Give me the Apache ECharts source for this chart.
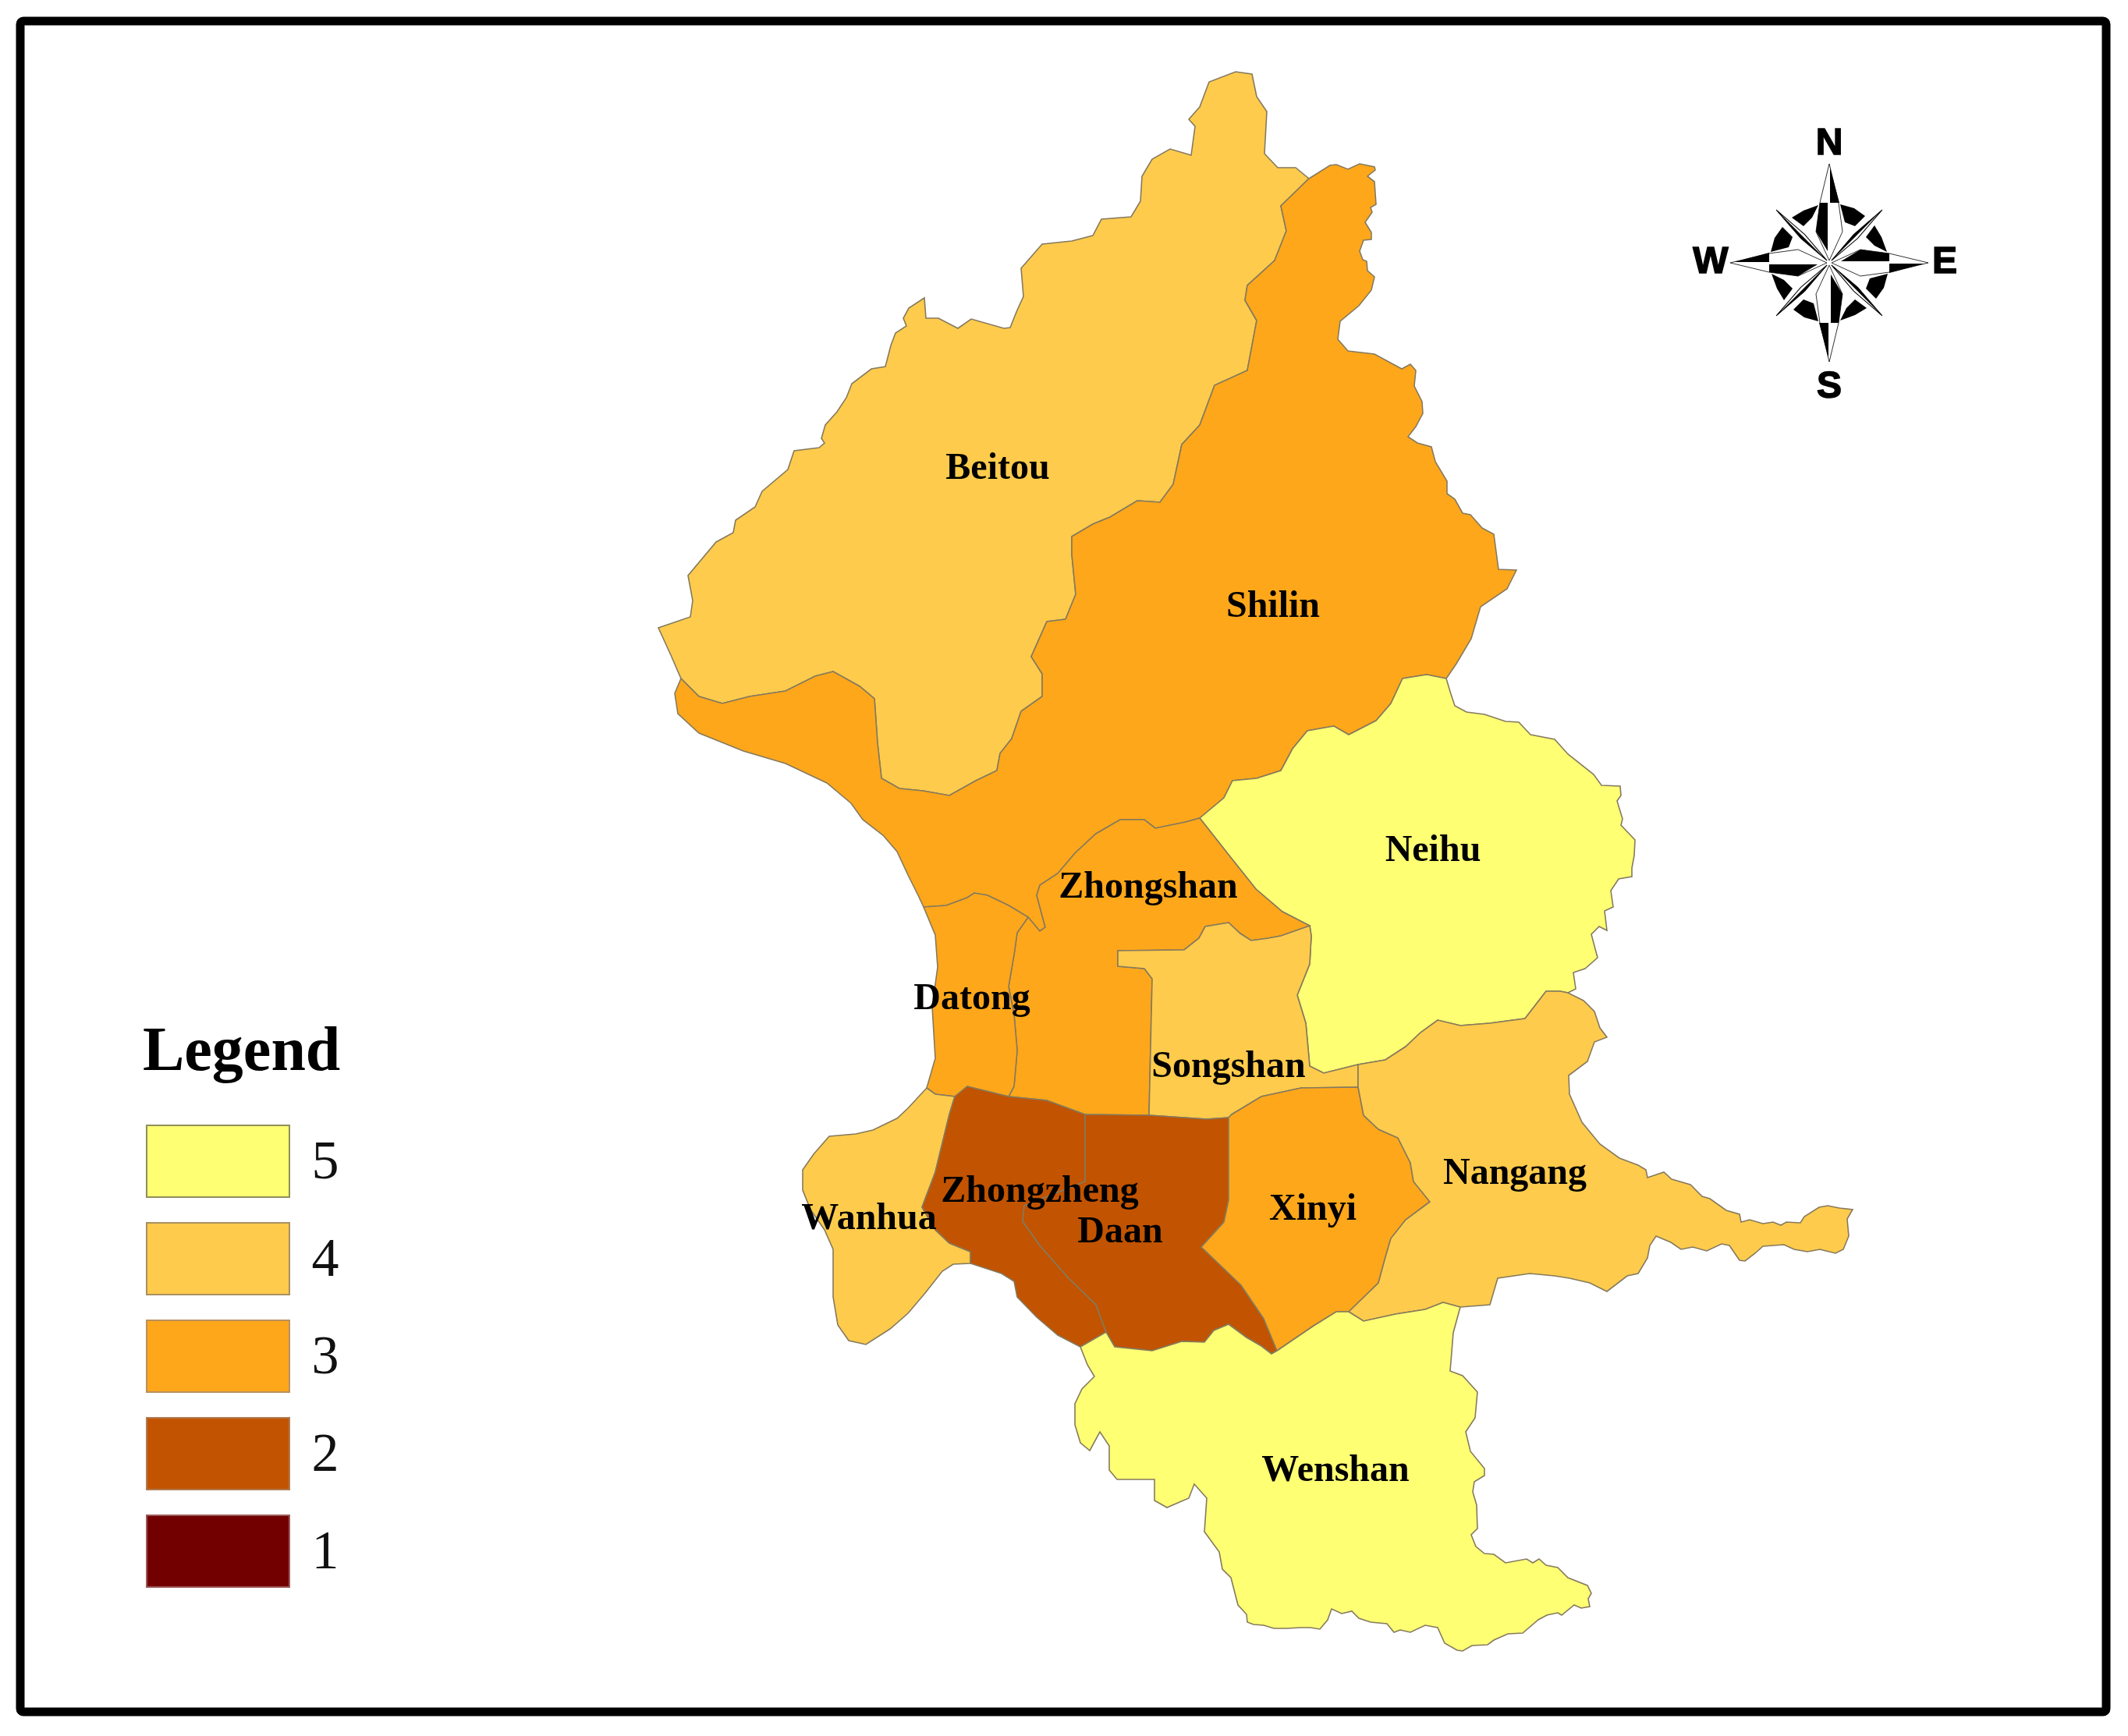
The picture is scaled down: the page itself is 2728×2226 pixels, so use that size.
<!DOCTYPE html>
<html>
<head>
<meta charset="utf-8">
<title>Taipei districts</title>
<script src="https://cdn.jsdelivr.net/npm/echarts@6/dist/echarts.min.js"></script>
<style>
  html, body { margin: 0; padding: 0; background: #fff; }
  #main { width: 2728px; height: 2226px; }
</style>
</head>
<body>
<div id="main"></div>
<script>
// district names, class (1-5) and label anchor
var districtNames = ['Beitou', 'Shilin', 'Neihu', 'Zhongshan', 'Datong', 'Songshan', 'Wanhua', 'Zhongzheng', 'Daan', 'Xinyi', 'Nangang', 'Wenshan'];
var districtLevels = [4, 3, 5, 3, 3, 4, 4, 2, 2, 3, 4, 5];
var labelAnchors = [[1279, 602], [1632, 779], [1837, 1092], [1472, 1139], [1246, 1282], [1575, 1369], [1114, 1564], [1333, 1529], [1436, 1581], [1683, 1552], [1942, 1506], [1712, 1887]];

var legendLevels = [5, 4, 3, 2, 1];
var levelColors = ['#730000', '#C25300', '#FFA71A', '#FFCB4C', '#FFFF73'];
var swatchBorders = ['#9c5a5a', '#b07a50', '#b89060', '#a89060', '#8f8f5a'];

var beitouCoast = [[844,805],[885,791],[888,770],[882,738],[918,695],[940,683],[943,667],[968,650],[977,630],[1010,602],[1018,578],[1050,574],[1057,568],[1053,562],[1058,545],[1073,528],[1085,510],[1092,492],[1117,473],[1135,470],[1142,443],[1148,427],[1162,418],[1158,408],[1165,395],[1185,382],[1187,408],[1203,408],[1228,421],[1245,409],[1287,421],[1295,420],[1303,400],[1312,380],[1309,344],[1336,313],[1374,309],[1401,302],[1412,281],[1450,278],[1462,258],[1464,226],[1477,204],[1500,191],[1527,199],[1532,162],[1524,153],[1538,137],[1550,105],[1584,92],[1605,95],[1611,124],[1624,143],[1621,197],[1638,215],[1661,215],[1678,229]];
var beitouShilin = [[1678,229],[1642,264],[1649,296],[1634,334],[1599,366],[1596,385],[1611,411],[1599,475],[1557,494],[1538,545],[1515,570],[1504,621],[1487,644],[1458,642],[1423,663],[1401,672],[1374,688],[1374,711],[1379,762],[1366,794],[1342,797],[1322,842],[1336,864],[1336,893],[1309,912],[1297,947],[1282,966],[1278,988],[1251,1001],[1217,1020],[1183,1014],[1153,1011],[1130,998],[1125,953],[1121,896],[1102,880],[1068,861],[1045,867],[1007,886],[961,893],[926,902],[896,893],[873,870]];
var beitouTail = [[873,870],[860,840],[844,805]];
var shilinEast = [[1678,229],[1705,212],[1713,211],[1728,217],[1743,210],[1762,214],[1763,218],[1753,226],[1762,233],[1764,262],[1757,266],[1759,272],[1750,285],[1758,298],[1758,307],[1748,308],[1743,322],[1747,333],[1752,335],[1753,347],[1762,355],[1758,372],[1742,392],[1718,412],[1715,435],[1728,450],[1762,454],[1797,473],[1808,467],[1815,475],[1813,495],[1823,515],[1824,530],[1815,547],[1805,560],[1817,568],[1835,573],[1840,592],[1855,617],[1855,633],[1865,640],[1875,658],[1885,660],[1900,677],[1915,685],[1921,730],[1944,731],[1932,755],[1898,778],[1886,819],[1867,851],[1854,870]];
var neihuShilin = [[1854,870],[1829,865],[1798,870],[1783,902],[1764,924],[1729,942],[1710,931],[1676,937],[1657,960],[1642,988],[1611,998],[1580,1001],[1569,1023],[1538,1049]];
var shilinCoast = [[873,870],[865,889],[869,915],[896,940],[953,963],[1007,979],[1060,1004],[1091,1030],[1106,1051],[1132,1071],[1150,1092],[1164,1122],[1177,1148],[1184,1163]];
var datongTop = [[1184,1163],[1213,1161],[1240,1151],[1249,1145],[1266,1148],[1293,1161],[1318,1176]];
var zhongshanWest = [[1318,1176],[1333,1194],[1340,1189],[1333,1163],[1329,1148],[1333,1135],[1356,1120],[1378,1094],[1405,1069],[1436,1051],[1467,1051],[1481,1062],[1520,1054],[1538,1049]];
var neihuZhongshan = [[1538,1049],[1575,1096],[1610,1140],[1644,1169],[1679,1187]];
var neihuEast = [[1854,870],[1860,890],[1865,905],[1880,913],[1903,916],[1930,925],[1947,926],[1962,942],[1993,948],[2010,967],[2043,993],[2053,1007],[2077,1008],[2078,1020],[2073,1027],[2080,1050],[2078,1058],[2096,1077],[2095,1097],[2092,1113],[2092,1124],[2075,1127],[2065,1142],[2068,1163],[2057,1168],[2060,1193],[2050,1188],[2040,1198],[2048,1228],[2032,1242],[2017,1247],[2020,1268],[2010,1273]];
var neihuNangang = [[1741,1365],[1776,1359],[1802,1342],[1821,1324],[1843,1308],[1872,1315],[1910,1312],[1955,1306],[1982,1271],[2000,1271],[2010,1273]];
var neihuSongshan = [[1679,1187],[1681,1200],[1679,1236],[1663,1276],[1674,1312],[1679,1367],[1697,1376],[1741,1365]];
var songshanTop = [[1433,1219],[1518,1218],[1537,1203],[1545,1188],[1575,1183],[1590,1197],[1604,1206],[1626,1203],[1642,1200],[1679,1187]];
var songshanWest = [[1473,1430],[1477,1255],[1467,1242],[1433,1239],[1433,1219]];
var songshanSouth = [[1575,1433],[1579,1429],[1617,1406],[1668,1395],[1741,1394]];
var zhongshanSouth = [[1473,1430],[1391,1429],[1342,1411],[1293,1406]];
var datongZhongshan = [[1318,1176],[1304,1196],[1300,1224],[1293,1265],[1300,1301],[1304,1347],[1300,1393],[1293,1406]];
var datongCoast = [[1184,1163],[1199,1199],[1202,1240],[1195,1291],[1199,1357],[1188,1395]];
var datongSouth = [[1188,1395],[1199,1403],[1224,1406]];
var zhongzhengTop = [[1224,1406],[1240,1393],[1293,1406],[1342,1411],[1391,1429]];
var wanhuaCoast = [[1188,1395],[1164,1421],[1150,1434],[1119,1449],[1097,1454],[1063,1457],[1043,1480],[1029,1500],[1029,1526],[1039,1551],[1057,1577],[1068,1602],[1068,1663],[1074,1699],[1088,1719],[1110,1724],[1141,1704],[1164,1684],[1186,1658],[1208,1630],[1222,1621],[1244,1620]];
var wanhuaZhongzheng = [[1244,1620],[1244,1605],[1217,1594],[1199,1577],[1182,1548],[1199,1503],[1217,1429],[1224,1406]];
var zhongzhengSouth = [[1244,1620],[1284,1633],[1300,1643],[1304,1663],[1329,1689],[1356,1712],[1385,1727]];
var zhongzhengDaan = [[1391,1429],[1391,1515],[1313,1546],[1311,1566],[1333,1597],[1369,1638],[1405,1673],[1418,1708]];
var daanTop = [[1391,1429],[1473,1430],[1547,1435],[1575,1433]];
var daanSouth = [[1418,1708],[1429,1727],[1477,1732],[1515,1720],[1544,1721],[1556,1706],[1575,1698],[1598,1715],[1617,1726],[1630,1736],[1637,1732]];
var daanXinyi = [[1637,1732],[1620,1691],[1591,1648],[1540,1599],[1569,1567],[1575,1539],[1575,1433]];
var xinyiNangang = [[1741,1394],[1748,1430],[1767,1448],[1792,1459],[1808,1491],[1812,1515],[1833,1541],[1802,1564],[1783,1588],[1776,1612],[1767,1645],[1729,1682]];
var xinyiWenshan = [[1729,1682],[1713,1682],[1684,1700],[1637,1732]];
var nangangOuter = [[2010,1273],[2030,1283],[2044,1297],[2051,1318],[2060,1330],[2044,1336],[2035,1361],[2011,1379],[2012,1403],[2028,1439],[2051,1467],[2076,1485],[2100,1494],[2110,1500],[2112,1510],[2133,1503],[2143,1512],[2167,1519],[2182,1534],[2192,1537],[2213,1552],[2230,1557],[2232,1567],[2243,1564],[2260,1569],[2273,1567],[2283,1571],[2290,1567],[2308,1568],[2313,1560],[2332,1548],[2343,1546],[2358,1549],[2375,1551],[2368,1563],[2370,1585],[2363,1602],[2353,1607],[2333,1602],[2317,1605],[2300,1602],[2287,1596],[2260,1598],[2250,1607],[2237,1617],[2230,1616],[2217,1597],[2207,1595],[2188,1604],[2170,1599],[2155,1602],[2142,1593],[2123,1585],[2115,1597],[2112,1613],[2100,1633],[2086,1636],[2060,1656],[2038,1645],[2012,1639],[1993,1636],[1961,1633],[1920,1639],[1910,1673],[1872,1676]];
var nangangWenshan = [[1872,1676],[1850,1670],[1827,1679],[1789,1685],[1748,1694],[1729,1682]];
var wenshanOuter = [[1872,1676],[1863,1709],[1859,1758],[1875,1764],[1894,1785],[1891,1818],[1879,1836],[1885,1861],[1903,1883],[1903,1892],[1890,1900],[1888,1913],[1893,1930],[1894,1960],[1886,1968],[1892,1983],[1903,1992],[1915,1993],[1930,2004],[1957,1999],[1965,2004],[1973,1999],[1982,2007],[1997,2010],[2010,2023],[2035,2033],[2040,2043],[2036,2050],[2038,2060],[2027,2062],[2018,2058],[2002,2071],[1997,2068],[1983,2071],[1972,2077],[1952,2094],[1933,2095],[1915,2103],[1907,2109],[1887,2110],[1875,2117],[1868,2116],[1852,2107],[1843,2087],[1827,2084],[1808,2093],[1795,2090],[1787,2093],[1778,2082],[1757,2080],[1742,2075],[1733,2066],[1720,2069],[1707,2063],[1702,2077],[1692,2089],[1680,2087],[1667,2087],[1650,2088],[1633,2088],[1620,2084],[1607,2083],[1599,2080],[1598,2070],[1587,2058],[1578,2023],[1567,2012],[1563,1990],[1544,1964],[1547,1921],[1531,1903],[1524,1921],[1496,1933],[1480,1924],[1480,1897],[1432,1897],[1422,1885],[1422,1854],[1410,1836],[1397,1860],[1385,1850],[1378,1827],[1378,1800],[1387,1781],[1403,1765],[1394,1750],[1385,1727]];

function rev(seg) { return seg.slice().reverse(); }
function loop() {
  var pts = [];
  for (var i = 0; i < arguments.length; i++) pts = pts.concat(arguments[i]);
  pts.push(pts[0]);
  // geo y grows upward, the tracing grows downward
  return pts.map(function (p) { return [p[0], -p[1]]; });
}

var districtShapes = [
  loop(beitouCoast, beitouShilin, beitouTail),
  loop(shilinEast, neihuShilin, rev(zhongshanWest), rev(datongTop), rev(shilinCoast), rev(beitouShilin)),
  loop(rev(neihuShilin), neihuEast, rev(neihuNangang), rev(neihuSongshan), rev(neihuZhongshan)),
  loop(zhongshanWest, neihuZhongshan, rev(songshanTop), rev(songshanWest), zhongshanSouth, rev(datongZhongshan)),
  loop(datongTop, datongZhongshan, rev(zhongzhengTop.slice(0, 3)), rev(datongSouth), rev(datongCoast)),
  loop(songshanTop, neihuSongshan, rev(songshanSouth), rev(daanTop.slice(1)), songshanWest),
  loop(wanhuaCoast, wanhuaZhongzheng, rev(datongSouth)),
  loop(zhongzhengTop, zhongzhengDaan, rev(zhongzhengSouth), wanhuaZhongzheng),
  loop(daanTop, rev(daanXinyi), rev(daanSouth), rev(zhongzhengDaan)),
  loop(songshanSouth, xinyiNangang, xinyiWenshan, daanXinyi),
  loop(neihuNangang, nangangOuter, nangangWenshan, rev(xinyiNangang)),
  loop(rev(xinyiWenshan), rev(nangangWenshan), wenshanOuter, daanSouth)
];

var geoJson = {
  type: 'FeatureCollection',
  features: districtNames.map(function (name, i) {
    return {
      type: 'Feature',
      properties: { name: name, cp: [labelAnchors[i][0], -labelAnchors[i][1]] },
      geometry: { type: 'Polygon', coordinates: [districtShapes[i]] }
    };
  })
};
echarts.registerMap('taipei', geoJson);

// bounding box of the traced map, gives the map its place on the page
var allX = [], allY = [];
districtShapes.forEach(function (s) {
  s.forEach(function (p) { allX.push(p[0]); allY.push(-p[1]); });
});
var mapLeft = Math.min.apply(null, allX), mapTop = Math.min.apply(null, allY);
var mapWidth = Math.max.apply(null, allX) - mapLeft, mapHeight = Math.max.apply(null, allY) - mapTop;

// compass rose, one quadrant is drawn and turned four times
var roseX = 2345, roseY = 337;
var roseParts = [];
for (var k = 0; k < 4; k++) {
  roseParts.push({
    type: 'group', rotation: -k * Math.PI / 2,
    children: [
      { type: 'polygon', shape: { points: [[14, -75], [32, -70], [46, -60], [33, -47], [20, -52]] }, style: { fill: '#000' } },
      { type: 'polygon', shape: { points: [[58, -48], [67, -33], [74, -14], [58, -22], [47, -33]] }, style: { fill: '#000' } }
    ]
  });
}
for (k = 0; k < 4; k++) {
  roseParts.push({
    type: 'group', rotation: -k * Math.PI / 2 - Math.PI / 4,
    children: [
      { type: 'polygon', shape: { points: [[0, -96], [-3.5, -48], [0, -4], [3.5, -48]] }, style: { fill: '#fff', stroke: '#000', lineWidth: 1 } },
      { type: 'polygon', shape: { points: [[0, -96], [-3.5, -48], [0, -4]] }, style: { fill: '#000' } }
    ]
  });
}
for (k = 0; k < 4; k++) {
  roseParts.push({
    type: 'group', rotation: -k * Math.PI / 2,
    children: [
      { type: 'polygon', shape: { points: [[0, -127], [-12, -77], [-17, -40], [0, -3], [17, -40], [12, -77]] }, style: { fill: '#fff', stroke: '#000', lineWidth: 0.8 } },
      { type: 'polygon', shape: { points: [[1, -122], [13, -77], [1, -77]] }, style: { fill: '#000' } },
      { type: 'polygon', shape: { points: [[-12, -77], [-17, -40], [-2, -15], [-2, -77]] }, style: { fill: '#000' } }
    ]
  });
}

var compassLetters = [['N', 2345, 185], ['S', 2345, 497], ['W', 2193, 337], ['E', 2493, 337]];

var swatchLeft = 188, swatchTop = 1443, swatchWidth = 183, swatchHeight = 92, swatchStep = 125;

// thin outline round each legend swatch and its class number
var swatchFrames = legendLevels.map(function (lv, i) {
  return {
    type: 'rect', z: 10,
    shape: { x: swatchLeft, y: swatchTop + i * swatchStep, width: swatchWidth, height: swatchHeight },
    style: { fill: null, stroke: swatchBorders[lv - 1], lineWidth: 2 }
  };
});
var swatchTexts = legendLevels.map(function (lv, i) {
  return {
    type: 'text', z: 10, x: 417, y: swatchTop + i * swatchStep + swatchHeight / 2 + 4,
    style: { text: String(lv), font: '70px "Liberation Serif"', fill: '#111', textAlign: 'center', textVerticalAlign: 'middle' }
  };
});

var graphics = [
  {
    type: 'rect',
    shape: { x: 26, y: 27, width: 2674, height: 2168, r: 4 },
    style: { fill: '#fff', stroke: '#000', lineWidth: 11 }, z: -1
  },
  { type: 'group', x: roseX, y: roseY, children: roseParts, z: 5 }
].concat(swatchFrames, swatchTexts, compassLetters.map(function (c) {
  return {
    type: 'text', x: c[1], y: c[2], z: 6,
    style: { text: c[0], font: 'bold 48px "Liberation Sans"', fill: '#000', stroke: '#000', lineWidth: 1.5, textAlign: 'center', textVerticalAlign: 'middle' }
  };
}));

var myChart = echarts.init(document.getElementById('main'), null, { renderer: 'canvas' });
var option = {
  backgroundColor: '#fff',
  animation: false,
  title: {
    text: 'Legend', left: 178, top: 1306,
    textStyle: { fontFamily: 'Liberation Serif', fontSize: 80, fontWeight: 'bold', color: '#000' }
  },
  visualMap: {
    type: 'piecewise',
    left: swatchLeft, top: swatchTop,
    padding: 0,
    itemWidth: swatchWidth, itemHeight: swatchHeight,
    itemGap: swatchStep - swatchHeight,
    itemSymbol: 'rect',
    showLabel: false,
    selectedMode: false,
    hoverLink: false,
    pieces: legendLevels.map(function (lv) {
      return { value: lv, label: String(lv), color: levelColors[lv - 1] };
    })
  },
  graphic: graphics,
  series: [{
    type: 'map',
    map: 'taipei',
    aspectScale: 1,
    left: mapLeft, top: mapTop, width: mapWidth, height: mapHeight,
    silent: true,
    itemStyle: { borderColor: '#857a5e', borderWidth: 1.6 },
    label: {
      show: true, color: '#000',
      fontFamily: 'Liberation Serif', fontWeight: 'bold', fontSize: 48
    },
    data: districtNames.map(function (name, i) {
      return { name: name, value: districtLevels[i] };
    })
  }]
};
myChart.setOption(option);

window.addEventListener('resize', function () { myChart.resize(); });
</script>
</body>
</html>
